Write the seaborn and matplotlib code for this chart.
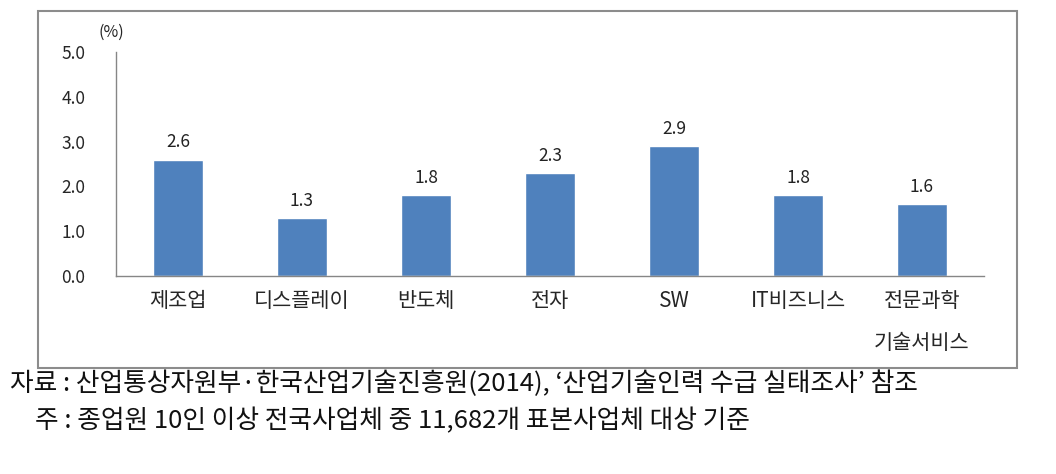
import matplotlib
matplotlib.use("Agg")
import matplotlib.pyplot as plt
import seaborn as sns
import pandas as pd
from matplotlib.patches import Rectangle

categories = ["제조업", "디스플레이", "반도체", "전자", "SW", "IT비즈니스", "전문과학\n기술서비스"]
values = [2.6, 1.3, 1.8, 2.3, 2.9, 1.8, 1.6]
yticks = [0.0, 1.0, 2.0, 3.0, 4.0, 5.0]
note1 = "자료 : 산업통상자원부·한국산업기술진흥원(2014), ‘산업기술인력 수급 실태조사’ 참조"
note2 = "주 : 종업원 10인 이상 전국사업체 중 11,682개 표본사업체 대상 기준"

sns.set_theme(style="white")
plt.rcParams['font.family'] = ['Noto Sans CJK KR', 'DejaVu Sans']

df = pd.DataFrame({"cat": categories, "val": values})

fig = plt.figure(figsize=(10.56, 4.74), dpi=100)
ax = fig.add_axes([0.1098, 0.4177, 0.8220, 0.4726])
sns.barplot(data=df, x="cat", y="val", color="#4F81BD", width=0.4, ax=ax, saturation=1)

ax.set_ylim(0, 5.0)
ax.set_xlim(-0.5, len(categories) - 0.5)
ax.set_yticks(yticks)
ax.set_yticklabels([f"{t:.1f}" for t in yticks], fontsize=12.5)
ax.set_xlabel("")
ax.set_ylabel("")
ax.tick_params(axis="x", length=0, pad=10, labelsize=15)
ax.tick_params(axis="y", length=0, pad=22)
for lbl in ax.get_xticklabels():
    lbl.set_linespacing(2.2)
    lbl.set_verticalalignment("top")

for s in ["top", "right"]:
    ax.spines[s].set_visible(False)
for s in ["left", "bottom"]:
    ax.spines[s].set_color("#868686")
    ax.spines[s].set_linewidth(1.0)

for i, v in enumerate(values):
    ax.text(i, v + 0.18, f"{v:.1f}", ha="center", va="bottom", fontsize=12.5, color="#222222")

ax.text(-0.02, 1.05, "(%)", transform=ax.transAxes, ha="left", va="bottom", fontsize=11.5)

fig.patches.append(Rectangle((0.036, 0.2236), 0.927, 0.7532, transform=fig.transFigure,
                             fill=False, edgecolor="#8c8c8c", linewidth=1.5))

fig.text(0.009, 0.19, note1, fontsize=18.5, ha="left", va="center", color="#111111")
fig.text(0.033, 0.112, note2, fontsize=18.5, ha="left", va="center", color="#111111")

fig.savefig("out.png", dpi=100)
